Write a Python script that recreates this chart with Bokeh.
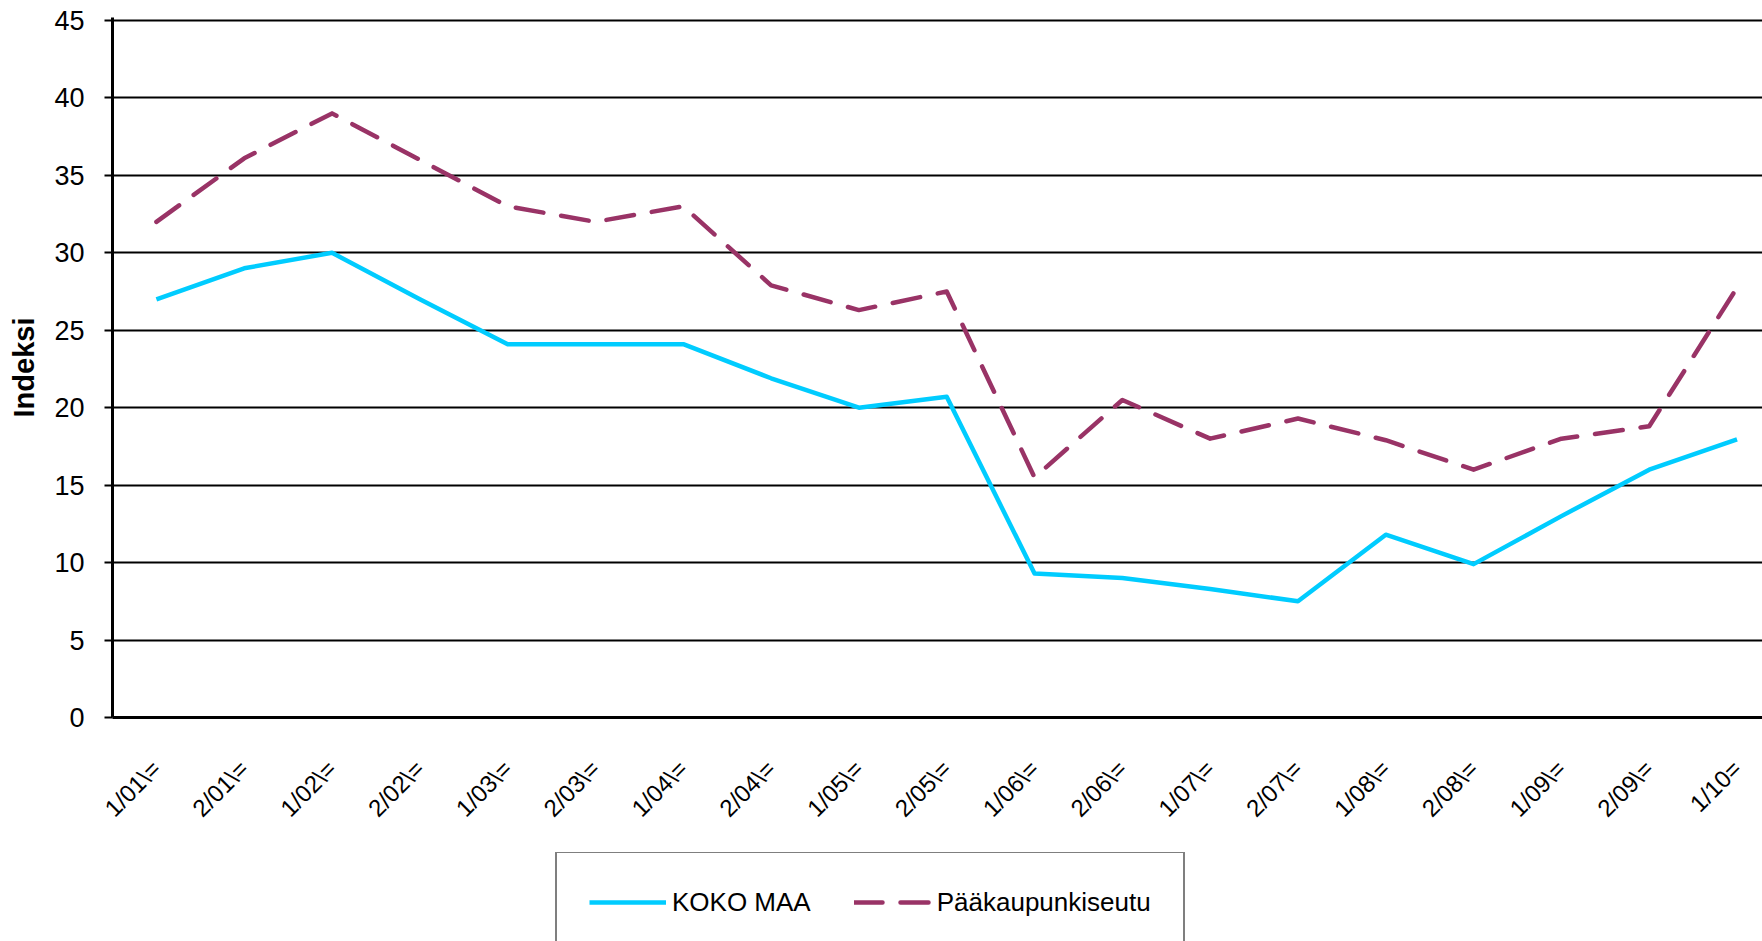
import math
from bokeh.plotting import figure
from bokeh.layouts import column
from bokeh.models import Range1d, FixedTicker, Legend, LegendItem
from bokeh.embed import file_html
from bokeh.resources import INLINE

categories = ["1/01\\=", "2/01\\=", "1/02\\=", "2/02\\=", "1/03\\=", "2/03\\=",
              "1/04\\=", "2/04\\=", "1/05\\=", "2/05\\=", "1/06\\=", "2/06\\=",
              "1/07\\=", "2/07\\=", "1/08\\=", "2/08\\=", "1/09\\=", "2/09\\=", "1/10="]
koko_maa = [27.0, 29.0, 30.0, 27.0, 24.1, 24.1, 24.1, 21.9, 20.0, 20.7,
            9.3, 9.0, 8.3, 7.5, 11.8, 9.9, 13.0, 16.0, 17.95]
paakaupunkiseutu = [32.0, 36.1, 39.0, 36.0, 33.0, 32.0, 33.0, 27.9, 26.3, 27.5,
                    15.5, 20.5, 18.0, 19.3, 17.9, 16.0, 18.0, 18.8, 27.75]
y_ticks = [0, 5, 10, 15, 20, 25, 30, 35, 40, 45]
series_names = ["KOKO MAA", "Pääkaupunkiseutu"]

FONT = "Liberation Sans"
CYAN = "#00CCFF"
MAROON = "#993366"
DASH = "28 18"
LW = 4.5
xs = list(range(len(categories)))

p = figure(width=1762, height=852, output_backend="svg", toolbar_location=None,
           x_range=Range1d(-0.5, 18.29), y_range=Range1d(0, 45.19),
           min_border_left=112, min_border_right=0, min_border_top=17,
           min_border_bottom=135)
p.outline_line_color = None
p.background_fill_color = "white"
p.border_fill_color = "white"

p.line(xs, koko_maa, line_color=CYAN, line_width=LW, line_join="round")
p.line(xs, paakaupunkiseutu, line_color=MAROON, line_width=LW,
       line_dash=DASH, line_cap="round", line_join="round")

# grids
p.xgrid.visible = False
p.ygrid.grid_line_color = "black"
p.ygrid.grid_line_width = 2
p.ygrid.ticker = FixedTicker(ticks=y_ticks)

# y axis
p.yaxis.ticker = FixedTicker(ticks=y_ticks)
p.yaxis.axis_label = "Indeksi"
p.yaxis.axis_label_text_font = FONT
p.yaxis.axis_label_text_font_style = "bold"
p.yaxis.axis_label_text_font_size = "29px"
p.yaxis.axis_label_text_color = "black"
p.yaxis.axis_label_standoff = 11
p.yaxis.major_label_text_font = FONT
p.yaxis.major_label_text_font_size = "27px"
p.yaxis.major_label_text_color = "black"
p.yaxis.major_label_standoff = 20
p.yaxis.axis_line_color = "black"
p.yaxis.axis_line_width = 3
p.yaxis.major_tick_line_color = "black"
p.yaxis.major_tick_line_width = 2
p.yaxis.major_tick_out = 8
p.yaxis.major_tick_in = 0
p.yaxis.minor_tick_line_color = None

# x axis
p.xaxis.ticker = FixedTicker(ticks=xs)
p.xaxis.major_label_overrides = {i: c for i, c in enumerate(categories)}
p.xaxis.major_label_orientation = math.pi / 4
p.xaxis.major_label_text_font = FONT
p.xaxis.major_label_text_font_size = "24px"
p.xaxis.major_label_text_color = "black"
p.xaxis.major_label_standoff = 41
p.xaxis.axis_line_color = "black"
p.xaxis.axis_line_width = 3
p.xaxis.major_tick_line_color = None
p.xaxis.minor_tick_line_color = None

# legend strip below the chart (series drawn off-range, only used for the legend swatches)
pl = figure(width=1762, height=89, output_backend="svg", toolbar_location=None,
            x_range=Range1d(0, 1), y_range=Range1d(-2, -1),
            x_axis_type=None, y_axis_type=None, min_border=0)
pl.outline_line_color = None
pl.xgrid.visible = False
pl.ygrid.visible = False
pl.background_fill_color = "white"
pl.border_fill_color = "white"
l1 = pl.line(xs, koko_maa, line_color=CYAN, line_width=LW)
l2 = pl.line(xs, paakaupunkiseutu, line_color=MAROON, line_width=LW,
             line_dash=DASH, line_cap="round")

legend = Legend(items=[LegendItem(label=series_names[0], renderers=[l1]),
                       LegendItem(label=series_names[1], renderers=[l2])],
                orientation="horizontal", location=(443, -12))
legend.label_text_font = FONT
legend.label_text_font_size = "26px"
legend.label_text_color = "black"
legend.glyph_width = 77
legend.glyph_height = 34
legend.label_height = 34
legend.label_standoff = 6
legend.spacing = 43
legend.padding = 32
legend.margin = 0
legend.border_line_color = "black"
legend.border_line_width = 2
legend.background_fill_color = "white"
legend.background_fill_alpha = 1.0
pl.add_layout(legend)

layout = column(p, pl, spacing=0)
open("out.html", "w").write(file_html(layout, INLINE))
